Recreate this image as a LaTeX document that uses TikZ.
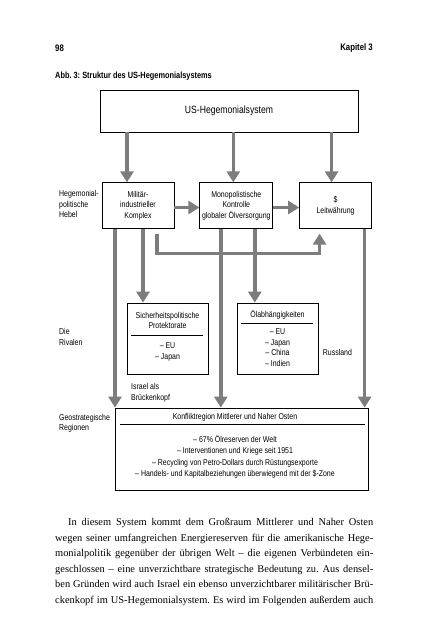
\documentclass[tikz,border=0pt]{standalone}
\usepackage{fontspec}
\setmainfont{Liberation Serif}
\newfontfamily\lblfont[FakeStretch=0.82,Ligatures=TeX]{Liberation Sans}
\usepackage{xcolor}
\usetikzlibrary{positioning}
\usetikzlibrary{arrows.meta}
\definecolor{arrgray}{RGB}{125,125,125}
\frenchspacing

\begin{document}
\begin{tikzpicture}[x=1pt, y=-1pt,
  box/.style = {draw, line width=0.8pt, inner sep=0pt},
  lbl/.style = {font=\lblfont\fontsize{8.5}{10.7}\selectfont, inner sep=0pt, align=center},
  lever/.style = {box, lbl, minimum width=72pt, minimum height=45.5pt},
  side/.style = {lbl, align=left, anchor=west},
  head/.style = {font=\lblfont\bfseries\fontsize{9.5}{11}\selectfont, inner sep=0pt},
  arr/.style = {draw=arrgray, line width=3.6pt, -{Triangle[width=13pt,length=11pt]}},
  rule/.style = {draw, line width=0.8pt}]
\fill[white] (0,0) rectangle (426,640);
\useasboundingbox (0,0) rectangle (426,640);

% page head and caption
\node[head, anchor=west] (page) at (55,48) {98};
\node[head, anchor=east] (chap) at (373,48) {Kapitel 3};
\node[head, anchor=west, font=\lblfont\bfseries\fontsize{9}{11}\selectfont] (caption) at (55,76) {Abb. 3: Struktur des US-Hegemonialsystems};

% boxes
\node[box, lbl, minimum width=258pt, minimum height=42pt, font=\lblfont\fontsize{10.5}{12}\selectfont] (top) at (229,111) {US-Hegemonialsystem};
\node[lever] (mil) at (138,205.5) {Militär-\\industrieller\\Komplex};
\node[lever, minimum width=73pt, right=25pt of mil] (mono) {Monopolistische\\Kontrolle\\globaler Ölversorgung};
\node[lever, right=26pt of mono] (dollar) {\$\\Leitwährung};
\node[box, minimum width=81pt, minimum height=71pt] (sich) at (167.5,338.5) {};
\node[box, minimum width=81pt, minimum height=71pt] (oel) at (277.5,338.5) {};
\node[box, minimum width=253pt, minimum height=82pt] (region) at (241.5,449) {};

% box contents
\node[lbl] (sichT) at (167.5,320.5) {Sicherheitspolitische\\Protektorate};
\draw[rule] ([xshift=4.5pt]sich.west |- 0,335.7) -- ([xshift=-5pt]sich.east |- 0,335.7);
\node[lbl] (sichL) at (167.5,352.2) {– EU\\– Japan};
\node[lbl] (oelT) at (277.5,315) {Ölabhängigkeiten};
\draw[rule] ([xshift=4.5pt]oel.west |- 0,323.3) -- ([xshift=-5pt]oel.east |- 0,323.3);
\node[lbl] (oelL) at (277.5,347.7) {– EU\\– Japan\\– China\\– Indien};
\node[lbl] (regT) at (235,417.7) {Konfliktregion Mittlerer und Naher Osten};
\draw[rule] ([xshift=5.5pt]region.west |- 0,424) -- ([xshift=-3pt]region.east |- 0,424);
\node[lbl, font=\lblfont\fontsize{8.5}{11.1}\selectfont] (regL) at (235,456.8) {– 67\% Ölreserven der Welt\\– Interventionen und Kriege seit 1951\\– Recycling von Petro-Dollars durch Rüstungsexporte\\– Handels- und Kapitalbeziehungen überwiegend mit der \$-Zone};

% side labels
\node[side] (hebel) at (59,204) {Hegemonial-\\politische\\Hebel};
\node[side] (rival) at (59,337) {Die\\Rivalen};
\node[side] (geo) at (59,423.3) {Geostrategische\\Regionen};
\node[side] (israel) at (131,392.5) {Israel als\\Brückenkopf};
\node[side] (russ) at (322.7,352.7) {Russland};

% arrows
\draw[arr] ([xshift=-11pt]mil.north |- top.south) -- ([xshift=-11pt]mil.north);
\draw[arr] ([xshift=-3pt]mono.north |- top.south) -- ([xshift=-3pt]mono.north);
\draw[arr] ([xshift=-4pt]dollar.north |- top.south) -- ([xshift=-4pt]dollar.north);
\draw[arr] ([yshift=-2pt]mil.east) -- ([yshift=-2pt]mono.west);
\draw[arr] ([yshift=-2pt]mono.east) -- ([yshift=-2pt]dollar.west);
\draw[arr] ([xshift=-23pt]mil.south) -- ([xshift=-23pt]mil.south |- region.north);
\draw[arr] ([xshift=5pt]mil.south) -- ([xshift=5pt]mil.south |- sich.north);
\draw[arr] ([xshift=-15.5pt]mono.south) -- ([xshift=-15.5pt]mono.south |- region.north);
\draw[arr] ([xshift=18.5pt]mono.south) -- ([xshift=18.5pt]mono.south |- oel.north);
\draw[arr] ([xshift=29pt]dollar.south) -- ([xshift=29pt]dollar.south |- region.north);
\draw[arr] ([xshift=19pt,yshift=-5pt]mil.south) -- ++(0,20) -| ([xshift=-16pt,yshift=-5pt]dollar.south);

% running text
\node[anchor=north west, inner sep=0pt, align=left, font=\fontsize{10.4}{15.5}\selectfont] (body) at (55,518) {%
\makebox[318pt][s]{\hspace*{13pt}In diesem System kommt dem Großraum Mittlerer und Naher Osten}\\
\makebox[318pt][s]{wegen seiner umfangreichen Energiereserven für die amerikanische Hege-}\\
\makebox[318pt][s]{monialpolitik gegenüber der übrigen Welt – die eigenen Verbündeten ein-}\\
\makebox[318pt][s]{geschlossen – eine unverzichtbare strategische Bedeutung zu. Aus densel-}\\
\makebox[318pt][s]{ben Gründen wird auch Israel ein ebenso unverzichtbarer militärischer Brü-}\\
\makebox[318pt][s]{ckenkopf im US-Hegemonialsystem. Es wird im Folgenden außerdem auch}};
\end{tikzpicture}
\end{document}
